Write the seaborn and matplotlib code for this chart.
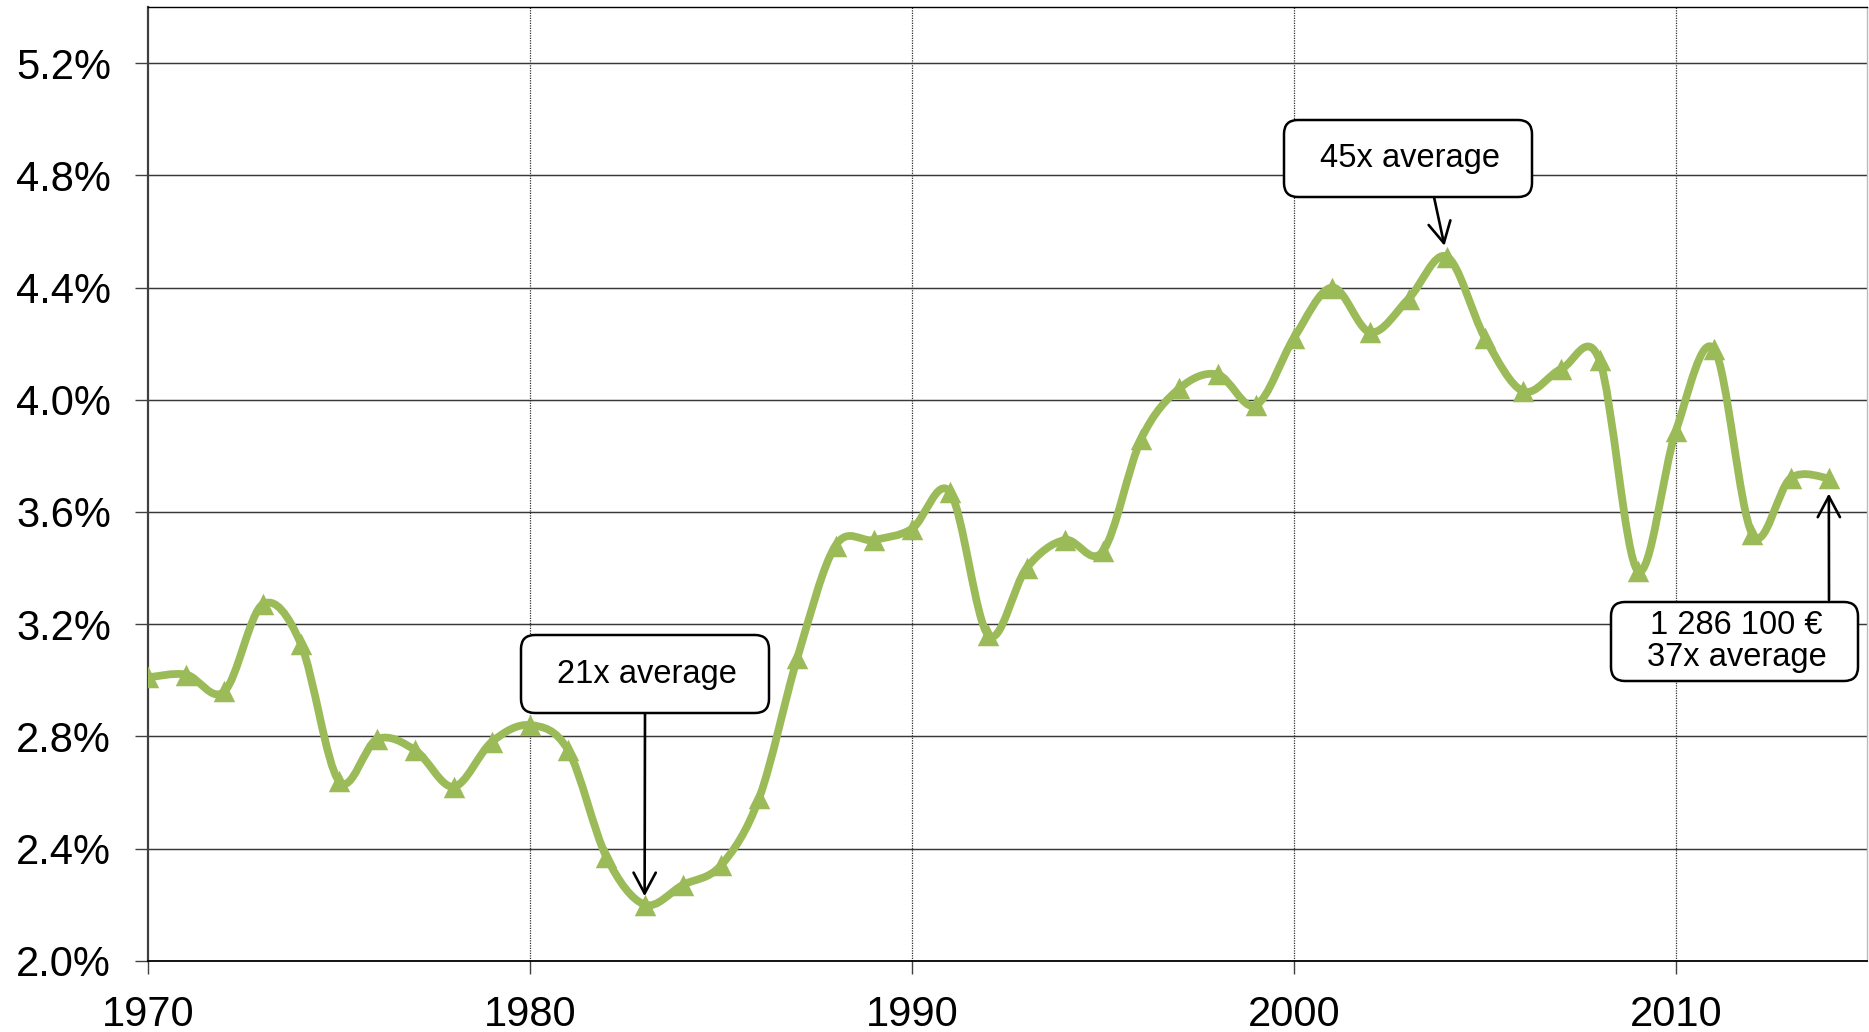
import numpy as np
import pandas as pd
import matplotlib
matplotlib.use("Agg")
import matplotlib.pyplot as plt
import seaborn as sns
from matplotlib.path import Path
from matplotlib.patches import PathPatch, FancyBboxPatch
from matplotlib.ticker import FuncFormatter

years = list(range(1970, 2015))
share = [3.01, 3.02, 2.96, 3.27, 3.13, 2.64, 2.79, 2.75, 2.62, 2.78,
         2.84, 2.75, 2.37, 2.20, 2.27, 2.34, 2.58, 3.08, 3.48, 3.50,
         3.54, 3.67, 3.16, 3.40, 3.50, 3.46, 3.86, 4.04, 4.09, 3.98,
         4.22, 4.40, 4.24, 4.36, 4.51, 4.22, 4.03, 4.11, 4.14, 3.39,
         3.89, 4.18, 3.52, 3.72, 3.72]
x_ticks = [1970, 1980, 1990, 2000, 2010]
y_ticks = [2.0, 2.4, 2.8, 3.2, 3.6, 4.0, 4.4, 4.8, 5.2]
notes = ["21x average", "45x average", "1 286 100 €\n37x average"]
note_years = [1983, 2004, 2014]

df = pd.DataFrame({"year": years, "share": share})

sns.set_theme(style="white")
plt.rcParams["font.family"] = ["Liberation Sans", "DejaVu Sans"]

GREEN = "#9BBB59"
W, H = 1869, 1032
fig = plt.figure(figsize=(W / 100, H / 100), dpi=100)
left_px, right_px, top_px, bot_px = 148, 1867, 7, 960.7
ax = fig.add_axes([left_px / W, 1 - bot_px / H, (right_px - left_px) / W, (bot_px - top_px) / H])
ax.set_xlim(1970, 2015)
ax.set_ylim(2.0, 5.4)

# grid
for yv in y_ticks[1:]:
    ax.axhline(yv, color="#383838", lw=1.05, zorder=1)
for xv in x_ticks[1:]:
    ax.axvline(xv, color="#303030", lw=0.9, ls=(0, (1, 1)), zorder=1)

# smooth line (Excel-like Bezier through the data points)
xs = np.array(df["year"], dtype=float)
ys = np.array(df["share"], dtype=float)
pts = np.column_stack([xs, ys])
n = len(pts)
verts = [pts[0]]
codes = [Path.MOVETO]
for i in range(n - 1):
    p0 = pts[i - 1] if i > 0 else pts[i]
    p1 = pts[i]
    p2 = pts[i + 1]
    p3 = pts[i + 2] if i + 2 < n else pts[i + 1]
    c1 = p1 + (p2 - p0) / 6.0
    c2 = p2 - (p3 - p1) / 6.0
    verts += [c1, c2, p2]
    codes += [Path.CURVE4] * 3
ax.add_patch(PathPatch(Path(verts, codes), facecolor="none", edgecolor=GREEN,
                       lw=5.6, capstyle="round", joinstyle="round", zorder=3))

sns.scatterplot(data=df, x="year", y="share", marker="^", s=240, color=GREEN,
                edgecolor=GREEN, linewidth=0, zorder=4, ax=ax, legend=False)

# axes styling
ax.set_xticks(x_ticks)
ax.set_yticks(y_ticks)
ax.yaxis.set_major_formatter(FuncFormatter(lambda v, p: f"{v:.1f}%"))
ax.set_xlabel("")
ax.set_ylabel("")
ax.tick_params(axis="both", labelsize=30, colors="black", length=9.5, width=1.0,
               direction="out")
ax.tick_params(axis="y", pad=17, color="#404040")
ax.tick_params(axis="x", pad=15, color="#404040")
ax.tick_params(axis="both", left=True, bottom=True)
for sp in ["left", "bottom", "top", "right"]:
    ax.spines[sp].set_visible(True)
ax.spines["left"].set_color("#404040")
ax.spines["left"].set_linewidth(1.6)
ax.spines["bottom"].set_color("black")
ax.spines["bottom"].set_linewidth(1.3)
ax.spines["top"].set_color("black")
ax.spines["top"].set_linewidth(1.0)
ax.spines["right"].set_color("#bbbbbb")
ax.spines["right"].set_linewidth(1.0)

# annotation boxes (pixel layout, top-left origin) and arrows
tr = fig.dpi_scale_trans
boxes = [(521, 635, 769, 713), (1284, 120, 1532, 197), (1611, 602, 1858, 681)]
arrow_start = [(645, 713), (1434, 197), (1829, 600)]
shrinks = [6, 8, 11]
for note, yr, (x0, y0, x1, y1), (sx, sy), shr in zip(notes, note_years, boxes, arrow_start, shrinks):
    bx = FancyBboxPatch((x0 / 100, (H - y1) / 100), (x1 - x0) / 100, (y1 - y0) / 100,
                        boxstyle="round,pad=0,rounding_size=0.14", transform=tr,
                        facecolor="white", edgecolor="black", lw=1.8, zorder=6)
    ax.add_patch(bx)
    ax.text((x0 + x1) / 200 + 0.02, (H - (y0 + y1) / 2) / 100, note, transform=tr,
            ha="center", va="center", fontsize=23.5, linespacing=1.05,
            color="black", zorder=7)
    yv = df.loc[df["year"] == yr, "share"].iloc[0]
    ax.annotate("", xy=(yr, yv), xycoords="data",
                xytext=(sx / 100, (H - sy) / 100), textcoords=tr,
                arrowprops=dict(arrowstyle="->,head_length=0.75,head_width=0.4",
                                mutation_scale=20, color="black", lw=1.9,
                                shrinkA=0, shrinkB=shr),
                zorder=5)

fig.savefig("out.png", dpi=100)
